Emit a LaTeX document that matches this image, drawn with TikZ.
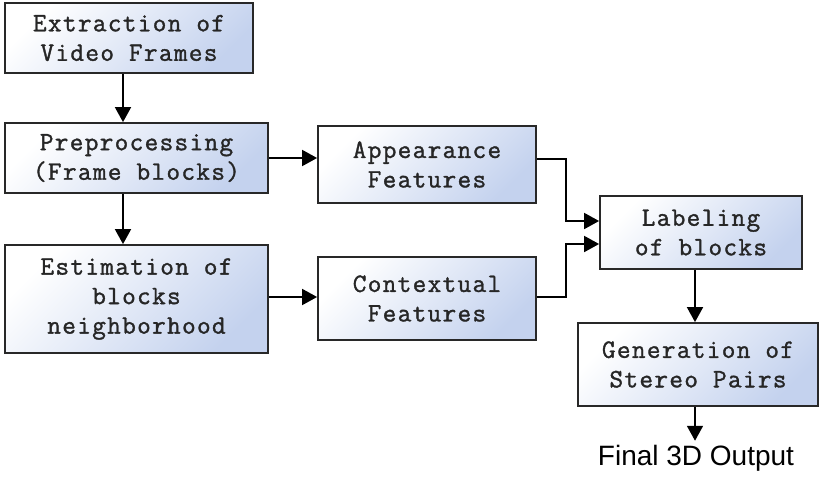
\documentclass[tikz,border=0pt]{standalone}
\usepackage{fontspec}
\setmonofont{Latin Modern Mono}[LetterSpace=5,FakeBold=1.3]
\newfontfamily\arialfont{Liberation Sans}
\usetikzlibrary{arrows.meta}
\definecolor{boxblue}{RGB}{196,210,238}
\definecolor{boxedge}{RGB}{40,40,40}
\tikzset{
  blk/.style={draw=boxedge, line width=1.8pt, top color=white, bottom color=boxblue, shading angle=45,
    align=center, inner sep=0pt, font=\ttfamily\fontsize{26.5}{29.5}\selectfont, text=black!85},
  arr/.style={line width=1.8pt, -{Triangle[length=15pt,width=16pt]}}
}
\begin{document}
\begin{tikzpicture}[x=1pt,y=-1pt]
\useasboundingbox (0,0) rectangle (821,479);
\node[blk, minimum width=248pt, minimum height=70pt] (ext) at (129,38) {Extraction of\\Video Frames};
\node[blk, minimum width=263pt, minimum height=70pt] (pre) at (136.5,158) {Preprocessing\\(Frame blocks)};
\node[blk, minimum width=263pt, minimum height=108pt] (est) at (136.5,299) {Estimation of\\blocks\\neighborhood};
\node[blk, minimum width=218pt, minimum height=77pt] (app) at (427,164.5) {Appearance\\Features};
\node[blk, minimum width=218pt, minimum height=83pt] (ctx) at (427,298.5) {Contextual\\Features};
\node[blk, minimum width=202pt, minimum height=73pt] (lab) at (701,232.5) {Labeling\\of blocks};
\node[blk, minimum width=240pt, minimum height=83pt] (gen) at (698,364.5) {Generation of\\Stereo Pairs};
\node[font=\arialfont\fontsize{28}{32}\selectfont, inner sep=0pt] (out) at (696,458) {Final 3D Output};

\draw[arr] (123,0 |- ext.south) -- (123,0 |- pre.north);
\draw[arr] (123,0 |- pre.south) -- (123,0 |- est.north);
\draw[arr] (pre.east) -- (pre.east -| app.west);
\draw[arr] (est.east |- 0,297) -- (ctx.west |- 0,297);
\draw[arr] (app.east |- 0,159) -- (566,159) -- (566,221) -- (lab.west |- 0,221);
\draw[arr] (ctx.east |- 0,297) -- (566,297) -- (566,244) -- (lab.west |- 0,244);
\draw[arr] (695,0 |- lab.south) -- (695,0 |- gen.north);
\draw[arr, shorten >=4pt] (695,0 |- gen.south) -- (695,0 |- out.north);
\end{tikzpicture}
\end{document}
